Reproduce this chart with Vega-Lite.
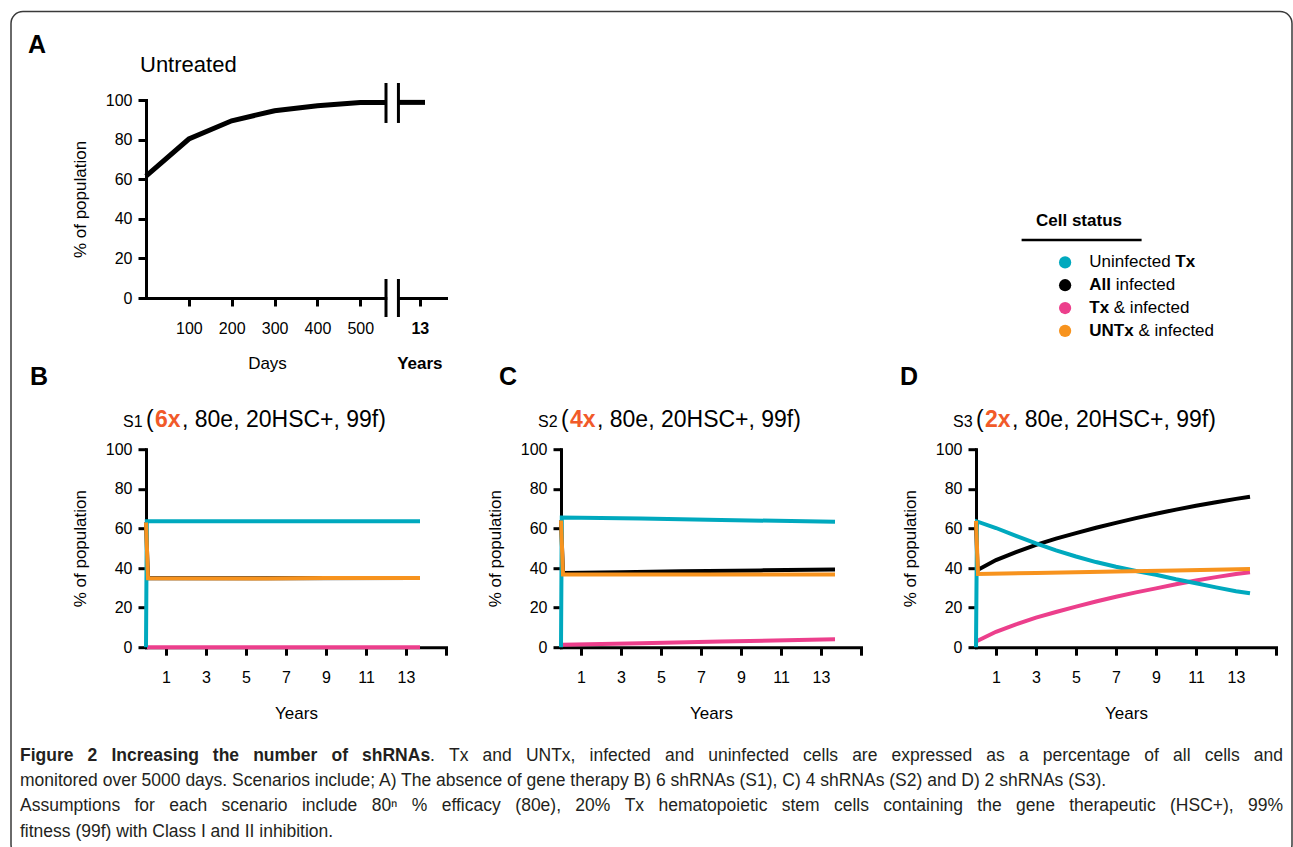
{
  "$schema": "https://vega.github.io/schema/vega-lite/v6.json",
  "background": "white",
  "padding": {"left": 10, "top": 10, "right": 0, "bottom": 0},
  "columns": 3,
  "align": "each",
  "bounds": "flush",
  "spacing": {"row": 151.2, "column": 115},
  "config": {
    "view": {"stroke": null},
    "font": "Liberation Sans",
    "axis": {
      "domainColor": "#000", "domainWidth": 3, "domainCap": "square",
      "tickColor": "#000", "tickWidth": 3, "tickSize": 8,
      "labelColor": "#000", "labelFont": "Liberation Sans", "labelFontSize": 16,
      "titleColor": "#000", "titleFont": "Liberation Sans", "titleFontSize": 17, "titleFontWeight": "normal",
      "grid": false, "labelFlush": false, "labelOverlap": false
    },
    "text": {"font": "Liberation Sans", "color": "#000"},
    "style": {
      "cap": {"fontSize": 17.5, "color": "#231f20", "align": "left", "baseline": "middle"},
      "capb": {"fontSize": 17.5, "color": "#231f20", "align": "left", "baseline": "middle", "fontWeight": "bold"},
      "leg": {"fontSize": 17, "align": "left", "baseline": "middle"},
      "ttl": {"fontSize": 23, "align": "left", "baseline": "alphabetic", "dy": -22}
    }
  },
  "datasets": {
    "untreated": [
      {"day": 0, "pct": 61.6, "seg": 1},
      {"day": 100, "pct": 80.3, "seg": 1},
      {"day": 200, "pct": 89.5, "seg": 1},
      {"day": 300, "pct": 94.6, "seg": 1},
      {"day": 400, "pct": 97.1, "seg": 1},
      {"day": 500, "pct": 98.7, "seg": 1},
      {"day": 560, "pct": 98.8, "seg": 1},
      {"day": 589, "pct": 98.8, "seg": 2},
      {"day": 651, "pct": 98.8, "seg": 2}
    ],
    "breaks": [{"b": 560}, {"b": 589}],
    "legendItems": [
      {"s": "Uninfected Tx", "r": 1},
      {"s": "All infected", "r": 2},
      {"s": "Tx & infected", "r": 3},
      {"s": "UNTx & infected", "r": 4}
    ],
    "sim": [
      {"p": "B", "s": "All infected", "t": 0, "v": 63},
      {"p": "B", "s": "All infected", "t": 0.1, "v": 34.8},
      {"p": "B", "s": "All infected", "t": 13.7, "v": 34.9},
      {"p": "B", "s": "Tx & infected", "t": 0.05, "v": 0},
      {"p": "B", "s": "Tx & infected", "t": 13.7, "v": 0},
      {"p": "B", "s": "Uninfected Tx", "t": 0, "v": 0},
      {"p": "B", "s": "Uninfected Tx", "t": 0.04, "v": 63.6},
      {"p": "B", "s": "Uninfected Tx", "t": 13.7, "v": 63.6},
      {"p": "B", "s": "UNTx & infected", "t": 0, "v": 63},
      {"p": "B", "s": "UNTx & infected", "t": 0.1, "v": 34.8},
      {"p": "B", "s": "UNTx & infected", "t": 6, "v": 34.7},
      {"p": "B", "s": "UNTx & infected", "t": 9, "v": 34.9},
      {"p": "B", "s": "UNTx & infected", "t": 13.7, "v": 34.9},

      {"p": "C", "s": "All infected", "t": 0, "v": 64},
      {"p": "C", "s": "All infected", "t": 0.1, "v": 37.5},
      {"p": "C", "s": "All infected", "t": 3, "v": 37.9},
      {"p": "C", "s": "All infected", "t": 6, "v": 38.3},
      {"p": "C", "s": "All infected", "t": 10, "v": 38.8},
      {"p": "C", "s": "All infected", "t": 13.7, "v": 39.3},
      {"p": "C", "s": "Tx & infected", "t": 0.05, "v": 1.2},
      {"p": "C", "s": "Tx & infected", "t": 4, "v": 2},
      {"p": "C", "s": "Tx & infected", "t": 8, "v": 2.9},
      {"p": "C", "s": "Tx & infected", "t": 13.7, "v": 4},
      {"p": "C", "s": "Uninfected Tx", "t": 0, "v": 0},
      {"p": "C", "s": "Uninfected Tx", "t": 0.04, "v": 65.5},
      {"p": "C", "s": "Uninfected Tx", "t": 4, "v": 65},
      {"p": "C", "s": "Uninfected Tx", "t": 8, "v": 64.3},
      {"p": "C", "s": "Uninfected Tx", "t": 13.7, "v": 63.3},
      {"p": "C", "s": "UNTx & infected", "t": 0, "v": 64},
      {"p": "C", "s": "UNTx & infected", "t": 0.1, "v": 36.7},
      {"p": "C", "s": "UNTx & infected", "t": 13.7, "v": 36.7},

      {"p": "D", "s": "All infected", "t": 0, "v": 63},
      {"p": "D", "s": "All infected", "t": 0.08, "v": 39},
      {"p": "D", "s": "All infected", "t": 1, "v": 44},
      {"p": "D", "s": "All infected", "t": 2, "v": 48},
      {"p": "D", "s": "All infected", "t": 3, "v": 51.7},
      {"p": "D", "s": "All infected", "t": 4, "v": 54.8},
      {"p": "D", "s": "All infected", "t": 5, "v": 57.6},
      {"p": "D", "s": "All infected", "t": 6, "v": 60.3},
      {"p": "D", "s": "All infected", "t": 7, "v": 62.8},
      {"p": "D", "s": "All infected", "t": 8, "v": 65.2},
      {"p": "D", "s": "All infected", "t": 9, "v": 67.4},
      {"p": "D", "s": "All infected", "t": 10, "v": 69.5},
      {"p": "D", "s": "All infected", "t": 11, "v": 71.4},
      {"p": "D", "s": "All infected", "t": 12, "v": 73.2},
      {"p": "D", "s": "All infected", "t": 13, "v": 74.9},
      {"p": "D", "s": "All infected", "t": 13.7, "v": 76},
      {"p": "D", "s": "Tx & infected", "t": 0.03, "v": 3},
      {"p": "D", "s": "Tx & infected", "t": 1, "v": 7.8},
      {"p": "D", "s": "Tx & infected", "t": 2, "v": 11.5},
      {"p": "D", "s": "Tx & infected", "t": 3, "v": 14.9},
      {"p": "D", "s": "Tx & infected", "t": 4, "v": 17.8},
      {"p": "D", "s": "Tx & infected", "t": 5, "v": 20.5},
      {"p": "D", "s": "Tx & infected", "t": 6, "v": 23.1},
      {"p": "D", "s": "Tx & infected", "t": 7, "v": 25.5},
      {"p": "D", "s": "Tx & infected", "t": 8, "v": 27.7},
      {"p": "D", "s": "Tx & infected", "t": 9, "v": 29.7},
      {"p": "D", "s": "Tx & infected", "t": 10, "v": 31.8},
      {"p": "D", "s": "Tx & infected", "t": 11, "v": 33.7},
      {"p": "D", "s": "Tx & infected", "t": 12, "v": 35.4},
      {"p": "D", "s": "Tx & infected", "t": 13, "v": 37},
      {"p": "D", "s": "Tx & infected", "t": 13.7, "v": 37.8},
      {"p": "D", "s": "Uninfected Tx", "t": 0, "v": 0},
      {"p": "D", "s": "Uninfected Tx", "t": 0.05, "v": 63.5},
      {"p": "D", "s": "Uninfected Tx", "t": 1, "v": 60.2},
      {"p": "D", "s": "Uninfected Tx", "t": 2, "v": 56.2},
      {"p": "D", "s": "Uninfected Tx", "t": 3, "v": 52.4},
      {"p": "D", "s": "Uninfected Tx", "t": 4, "v": 48.9},
      {"p": "D", "s": "Uninfected Tx", "t": 5, "v": 45.8},
      {"p": "D", "s": "Uninfected Tx", "t": 6, "v": 43},
      {"p": "D", "s": "Uninfected Tx", "t": 7, "v": 40.6},
      {"p": "D", "s": "Uninfected Tx", "t": 8, "v": 38.5},
      {"p": "D", "s": "Uninfected Tx", "t": 9, "v": 36.6},
      {"p": "D", "s": "Uninfected Tx", "t": 10, "v": 34.3},
      {"p": "D", "s": "Uninfected Tx", "t": 11, "v": 32.3},
      {"p": "D", "s": "Uninfected Tx", "t": 12, "v": 30.2},
      {"p": "D", "s": "Uninfected Tx", "t": 13, "v": 28.3},
      {"p": "D", "s": "Uninfected Tx", "t": 13.7, "v": 27.2},
      {"p": "D", "s": "UNTx & infected", "t": 0, "v": 63.8},
      {"p": "D", "s": "UNTx & infected", "t": 0.1, "v": 37},
      {"p": "D", "s": "UNTx & infected", "t": 3, "v": 37.5},
      {"p": "D", "s": "UNTx & infected", "t": 7, "v": 38.2},
      {"p": "D", "s": "UNTx & infected", "t": 10, "v": 38.8},
      {"p": "D", "s": "UNTx & infected", "t": 13.7, "v": 39.5}
    ]
  },
  "concat": [
    {
      "width": 300,
      "height": 198,
      "layer": [
        {
          "data": {"name": "untreated"},
          "mark": {"type": "line", "strokeWidth": 5, "color": "#000"},
          "encoding": {
            "x": {"field": "day", "type": "quantitative", "scale": {"domain": [0, 700], "nice": false, "zero": false},
              "axis": {"values": [100, 200, 300, 400, 500, 639], "tickCount": 10, "title": null, "labelPadding": 14,
                "labelExpr": "datum.value == 639 ? '13' : datum.label",
                "labelFontWeight": {"condition": {"test": "datum.value == 639", "value": "bold"}, "value": "normal"}}},
            "y": {"field": "pct", "type": "quantitative", "scale": {"domain": [0, 100], "nice": false},
              "axis": {"values": [0, 20, 40, 60, 80, 100], "tickCount": 10, "title": "% of population", "titlePadding": 16, "labelPadding": 6}},
            "detail": {"field": "seg", "type": "nominal"}
          }
        },
        {
          "data": {"values": [{}]},
          "mark": {"type": "rect", "color": "white"},
          "encoding": {"x": {"datum": 563, "type": "quantitative"}, "x2": {"datum": 586}, "y": {"datum": -2.5, "type": "quantitative"}, "y2": {"datum": 2.5}}
        },
        {
          "data": {"name": "breaks"},
          "mark": {"type": "rule", "strokeWidth": 3, "color": "#000"},
          "encoding": {"x": {"field": "b", "type": "quantitative"}, "y": {"datum": 108.6, "type": "quantitative"}, "y2": {"datum": 88.4}}
        },
        {
          "data": {"name": "breaks"},
          "mark": {"type": "rule", "strokeWidth": 3, "color": "#000"},
          "encoding": {"x": {"field": "b", "type": "quantitative"}, "y": {"datum": 9.6, "type": "quantitative"}, "y2": {"datum": -9.6}}
        },
        {
          "data": {"values": [{}]},
          "mark": {"type": "text", "text": "A", "fontSize": 25, "fontWeight": "bold", "align": "left", "baseline": "alphabetic", "dx": -118, "dy": -47},
          "encoding": {"x": {"datum": 0, "type": "quantitative"}, "y": {"datum": 100, "type": "quantitative"}}
        },
        {
          "data": {"values": [{}]},
          "mark": {"type": "text", "text": "Untreated", "fontSize": 22, "align": "left", "baseline": "alphabetic", "dx": -6, "dy": -27.6},
          "encoding": {"x": {"datum": 0, "type": "quantitative"}, "y": {"datum": 100, "type": "quantitative"}}
        },
        {
          "data": {"values": [{}]},
          "mark": {"type": "text", "text": "Days", "fontSize": 17, "align": "center", "baseline": "alphabetic", "dy": 70.7},
          "encoding": {"x": {"datum": 283.5, "type": "quantitative"}, "y": {"datum": 0, "type": "quantitative"}}
        },
        {
          "data": {"values": [{}]},
          "mark": {"type": "text", "text": "Years", "fontSize": 17, "fontWeight": "bold", "align": "center", "baseline": "alphabetic", "dy": 70.7},
          "encoding": {"x": {"datum": 639, "type": "quantitative"}, "y": {"datum": 0, "type": "quantitative"}}
        }
      ]
    },
    {
      "width": 300,
      "height": 198,
      "data": {"values": []},
      "mark": {"type": "point", "opacity": 0},
      "encoding": {}
    },
    {
      "width": 300,
      "height": 198,
      "encoding": {
        "x": {"datum": 0.3777, "type": "quantitative", "scale": {"domain": [0, 1], "nice": false, "zero": false}, "axis": null}
      },
      "layer": [
        {
          "data": {"name": "legendItems"},
          "mark": {"type": "point", "filled": true, "size": 150, "opacity": 1},
          "encoding": {
            "x": {"datum": 0.297, "type": "quantitative"},
            "y": {"field": "r", "type": "quantitative", "scale": {"domain": [-6.123, 2.561], "reverse": true, "nice": false, "zero": false}, "axis": null},
            "color": {"field": "s", "type": "nominal", "legend": null,
              "scale": {"domain": ["All infected", "Tx & infected", "Uninfected Tx", "UNTx & infected"], "range": ["#000000", "#EC3F8C", "#00A9BE", "#F7931E"]}}
          }
        },
        {
          "data": {"values": [{}]},
          "mark": {"type": "text", "text": "Cell status", "fontSize": 17, "fontWeight": "bold", "align": "center", "baseline": "alphabetic"},
          "encoding": {"x": {"datum": 0.3433, "type": "quantitative"}, "y": {"datum": -0.61, "type": "quantitative"}}
        },
        {
          "data": {"values": [{}]},
          "mark": {"type": "rule", "strokeWidth": 2.3, "color": "#000"},
          "encoding": {"x": {"datum": 0.152, "type": "quantitative"}, "x2": {"datum": 0.552}, "y": {"datum": 0.0175, "type": "quantitative"}}
        },
        {"data": {"values": [{}]}, "mark": {"type": "text", "style": "leg", "text": "Uninfected"}, "encoding": {"y": {"datum": 1, "type": "quantitative"}}},
        {"data": {"values": [{}]}, "mark": {"type": "text", "style": "leg", "text": "Tx", "fontWeight": "bold", "dx": 86}, "encoding": {"y": {"datum": 1, "type": "quantitative"}}},
        {"data": {"values": [{}]}, "mark": {"type": "text", "style": "leg", "text": "All", "fontWeight": "bold"}, "encoding": {"y": {"datum": 2, "type": "quantitative"}}},
        {"data": {"values": [{}]}, "mark": {"type": "text", "style": "leg", "text": "infected", "dx": 26.4}, "encoding": {"y": {"datum": 2, "type": "quantitative"}}},
        {"data": {"values": [{}]}, "mark": {"type": "text", "style": "leg", "text": "Tx", "fontWeight": "bold"}, "encoding": {"y": {"datum": 3, "type": "quantitative"}}},
        {"data": {"values": [{}]}, "mark": {"type": "text", "style": "leg", "text": "& infected", "dx": 24.5}, "encoding": {"y": {"datum": 3, "type": "quantitative"}}},
        {"data": {"values": [{}]}, "mark": {"type": "text", "style": "leg", "text": "UNTx", "fontWeight": "bold"}, "encoding": {"y": {"datum": 4, "type": "quantitative"}}},
        {"data": {"values": [{}]}, "mark": {"type": "text", "style": "leg", "text": "& infected", "dx": 49.1}, "encoding": {"y": {"datum": 4, "type": "quantitative"}}}
      ]
    },
    {
      "width": 300,
      "height": 198,
      "layer": [
        {
          "data": {"name": "sim"},
          "transform": [{"filter": "datum.p == 'B'"}],
          "mark": {"type": "line", "strokeWidth": 4},
          "encoding": {
            "x": {"field": "t", "type": "quantitative", "scale": {"domain": [0, 15], "nice": false, "zero": false},
              "axis": {"values": [1, 3, 5, 7, 9, 11, 13, 15], "tickCount": 10, "labelExpr": "datum.value == 15 ? '' : datum.label", "title": "Years", "titlePadding": 20, "labelPadding": 14}},
            "y": {"field": "v", "type": "quantitative", "scale": {"domain": [0, 100], "nice": false},
              "axis": {"values": [0, 20, 40, 60, 80, 100], "tickCount": 10, "title": "% of population", "titlePadding": 16, "labelPadding": 6}},
            "color": {"field": "s", "type": "nominal", "legend": null,
              "scale": {"domain": ["All infected", "Tx & infected", "Uninfected Tx", "UNTx & infected"], "range": ["#000000", "#EC3F8C", "#00A9BE", "#F7931E"]}}
          }
        },
        {
          "data": {"values": [{}]},
          "mark": {"type": "text", "text": "B", "fontSize": 25, "fontWeight": "bold", "align": "left", "baseline": "alphabetic", "dx": -116, "dy": -64},
          "encoding": {"x": {"datum": 0, "type": "quantitative"}, "y": {"datum": 100, "type": "quantitative"}}
        },
        {"data": {"values": [{}]}, "mark": {"type": "text", "style": "ttl", "text": "S1", "fontSize": 16, "dx": -23}, "encoding": {"x": {"datum": 0, "type": "quantitative"}, "y": {"datum": 100, "type": "quantitative"}}},
        {"data": {"values": [{}]}, "mark": {"type": "text", "style": "ttl", "text": "(", "dx": 0}, "encoding": {"x": {"datum": 0, "type": "quantitative"}, "y": {"datum": 100, "type": "quantitative"}}},
        {"data": {"values": [{}]}, "mark": {"type": "text", "style": "ttl", "text": "6x", "fontWeight": "bold", "color": "#F15A29", "dx": 9}, "encoding": {"x": {"datum": 0, "type": "quantitative"}, "y": {"datum": 100, "type": "quantitative"}}},
        {"data": {"values": [{}]}, "mark": {"type": "text", "style": "ttl", "text": ", 80e, 20HSC+, 99f)", "dx": 36}, "encoding": {"x": {"datum": 0, "type": "quantitative"}, "y": {"datum": 100, "type": "quantitative"}}}
      ]
    },
    {
      "width": 300,
      "height": 198,
      "layer": [
        {
          "data": {"name": "sim"},
          "transform": [{"filter": "datum.p == 'C'"}],
          "mark": {"type": "line", "strokeWidth": 4},
          "encoding": {
            "x": {"field": "t", "type": "quantitative", "scale": {"domain": [0, 15], "nice": false, "zero": false},
              "axis": {"values": [1, 3, 5, 7, 9, 11, 13, 15], "tickCount": 10, "labelExpr": "datum.value == 15 ? '' : datum.label", "title": "Years", "titlePadding": 20, "labelPadding": 14}},
            "y": {"field": "v", "type": "quantitative", "scale": {"domain": [0, 100], "nice": false},
              "axis": {"values": [0, 20, 40, 60, 80, 100], "tickCount": 10, "title": "% of population", "titlePadding": 16, "labelPadding": 6}},
            "color": {"field": "s", "type": "nominal", "legend": null,
              "scale": {"domain": ["All infected", "Tx & infected", "Uninfected Tx", "UNTx & infected"], "range": ["#000000", "#EC3F8C", "#00A9BE", "#F7931E"]}}
          }
        },
        {
          "data": {"values": [{}]},
          "mark": {"type": "text", "text": "C", "fontSize": 25, "fontWeight": "bold", "align": "left", "baseline": "alphabetic", "dx": -62, "dy": -64},
          "encoding": {"x": {"datum": 0, "type": "quantitative"}, "y": {"datum": 100, "type": "quantitative"}}
        },
        {"data": {"values": [{}]}, "mark": {"type": "text", "style": "ttl", "text": "S2", "fontSize": 16, "dx": -23}, "encoding": {"x": {"datum": 0, "type": "quantitative"}, "y": {"datum": 100, "type": "quantitative"}}},
        {"data": {"values": [{}]}, "mark": {"type": "text", "style": "ttl", "text": "(", "dx": 0}, "encoding": {"x": {"datum": 0, "type": "quantitative"}, "y": {"datum": 100, "type": "quantitative"}}},
        {"data": {"values": [{}]}, "mark": {"type": "text", "style": "ttl", "text": "4x", "fontWeight": "bold", "color": "#F15A29", "dx": 9}, "encoding": {"x": {"datum": 0, "type": "quantitative"}, "y": {"datum": 100, "type": "quantitative"}}},
        {"data": {"values": [{}]}, "mark": {"type": "text", "style": "ttl", "text": ", 80e, 20HSC+, 99f)", "dx": 36}, "encoding": {"x": {"datum": 0, "type": "quantitative"}, "y": {"datum": 100, "type": "quantitative"}}}
      ]
    },
    {
      "width": 300,
      "height": 198,
      "layer": [
        {
          "data": {"name": "sim"},
          "transform": [{"filter": "datum.p == 'D'"}],
          "mark": {"type": "line", "strokeWidth": 4},
          "encoding": {
            "x": {"field": "t", "type": "quantitative", "scale": {"domain": [0, 15], "nice": false, "zero": false},
              "axis": {"values": [1, 3, 5, 7, 9, 11, 13, 15], "tickCount": 10, "labelExpr": "datum.value == 15 ? '' : datum.label", "title": "Years", "titlePadding": 20, "labelPadding": 14}},
            "y": {"field": "v", "type": "quantitative", "scale": {"domain": [0, 100], "nice": false},
              "axis": {"values": [0, 20, 40, 60, 80, 100], "tickCount": 10, "title": "% of population", "titlePadding": 16, "labelPadding": 6}},
            "color": {"field": "s", "type": "nominal", "legend": null,
              "scale": {"domain": ["All infected", "Tx & infected", "Uninfected Tx", "UNTx & infected"], "range": ["#000000", "#EC3F8C", "#00A9BE", "#F7931E"]}}
          }
        },
        {
          "data": {"values": [{}]},
          "mark": {"type": "text", "text": "D", "fontSize": 25, "fontWeight": "bold", "align": "left", "baseline": "alphabetic", "dx": -76, "dy": -64},
          "encoding": {"x": {"datum": 0, "type": "quantitative"}, "y": {"datum": 100, "type": "quantitative"}}
        },
        {"data": {"values": [{}]}, "mark": {"type": "text", "style": "ttl", "text": "S3", "fontSize": 16, "dx": -23}, "encoding": {"x": {"datum": 0, "type": "quantitative"}, "y": {"datum": 100, "type": "quantitative"}}},
        {"data": {"values": [{}]}, "mark": {"type": "text", "style": "ttl", "text": "(", "dx": 0}, "encoding": {"x": {"datum": 0, "type": "quantitative"}, "y": {"datum": 100, "type": "quantitative"}}},
        {"data": {"values": [{}]}, "mark": {"type": "text", "style": "ttl", "text": "2x", "fontWeight": "bold", "color": "#F15A29", "dx": 9}, "encoding": {"x": {"datum": 0, "type": "quantitative"}, "y": {"datum": 100, "type": "quantitative"}}},
        {"data": {"values": [{}]}, "mark": {"type": "text", "style": "ttl", "text": ", 80e, 20HSC+, 99f)", "dx": 36}, "encoding": {"x": {"datum": 0, "type": "quantitative"}, "y": {"datum": 100, "type": "quantitative"}}}
      ]
    },
    {
      "width": 300,
      "height": 50,
      "data": {"values": [{}]},
      "encoding": {
        "x": {"datum": -0.42, "type": "quantitative", "scale": {"domain": [0, 1], "nice": false, "zero": false}, "axis": null}
      },
      "layer": [
        {
          "mark": {"type": "rect", "filled": false, "stroke": "#3a3a3a", "strokeWidth": 1.5, "cornerRadius": 12},
          "encoding": {
            "x": {"datum": -0.45, "type": "quantitative"},
            "x2": {"datum": 3.82},
            "y": {"datum": -28.41, "type": "quantitative", "scale": {"domain": [2.688, 4.664], "reverse": true, "nice": false, "zero": false}, "axis": null},
            "y2": {"datum": 4.99}
          }
        },
        {"mark": {"type": "text", "style": "capb", "text": "Figure", "dx": 0}, "encoding": {"y": {"datum": 1, "type": "quantitative"}}},
        {"mark": {"type": "text", "style": "capb", "text": "2", "dx": 67.57}, "encoding": {"y": {"datum": 1, "type": "quantitative"}}},
        {"mark": {"type": "text", "style": "capb", "text": "Increasing", "dx": 91.39}, "encoding": {"y": {"datum": 1, "type": "quantitative"}}},
        {"mark": {"type": "text", "style": "capb", "text": "the", "dx": 192.84}, "encoding": {"y": {"datum": 1, "type": "quantitative"}}},
        {"mark": {"type": "text", "style": "capb", "text": "number", "dx": 233.18}, "encoding": {"y": {"datum": 1, "type": "quantitative"}}},
        {"mark": {"type": "text", "style": "capb", "text": "of", "dx": 311.44}, "encoding": {"y": {"datum": 1, "type": "quantitative"}}},
        {"mark": {"type": "text", "style": "capb", "text": "shRNAs", "dx": 342.05}, "encoding": {"y": {"datum": 1, "type": "quantitative"}}},
        {"mark": {"type": "text", "style": "cap", "text": ".", "dx": 410.11}, "encoding": {"y": {"datum": 1, "type": "quantitative"}}},
        {"mark": {"type": "text", "style": "cap", "text": "Tx", "dx": 429.07}, "encoding": {"y": {"datum": 1, "type": "quantitative"}}},
        {"mark": {"type": "text", "style": "cap", "text": "and", "dx": 462.6}, "encoding": {"y": {"datum": 1, "type": "quantitative"}}},
        {"mark": {"type": "text", "style": "cap", "text": "UNTx,", "dx": 505.88}, "encoding": {"y": {"datum": 1, "type": "quantitative"}}},
        {"mark": {"type": "text", "style": "cap", "text": "infected", "dx": 569.55}, "encoding": {"y": {"datum": 1, "type": "quantitative"}}},
        {"mark": {"type": "text", "style": "cap", "text": "and", "dx": 644.93}, "encoding": {"y": {"datum": 1, "type": "quantitative"}}},
        {"mark": {"type": "text", "style": "cap", "text": "uninfected", "dx": 688.21}, "encoding": {"y": {"datum": 1, "type": "quantitative"}}},
        {"mark": {"type": "text", "style": "cap", "text": "cells", "dx": 783.05}, "encoding": {"y": {"datum": 1, "type": "quantitative"}}},
        {"mark": {"type": "text", "style": "cap", "text": "are", "dx": 832.14}, "encoding": {"y": {"datum": 1, "type": "quantitative"}}},
        {"mark": {"type": "text", "style": "cap", "text": "expressed", "dx": 871.52}, "encoding": {"y": {"datum": 1, "type": "quantitative"}}},
        {"mark": {"type": "text", "style": "cap", "text": "as", "dx": 966.34}, "encoding": {"y": {"datum": 1, "type": "quantitative"}}},
        {"mark": {"type": "text", "style": "cap", "text": "a", "dx": 998.91}, "encoding": {"y": {"datum": 1, "type": "quantitative"}}},
        {"mark": {"type": "text", "style": "cap", "text": "percentage", "dx": 1022.73}, "encoding": {"y": {"datum": 1, "type": "quantitative"}}},
        {"mark": {"type": "text", "style": "cap", "text": "of", "dx": 1124.37}, "encoding": {"y": {"datum": 1, "type": "quantitative"}}},
        {"mark": {"type": "text", "style": "cap", "text": "all", "dx": 1153.06}, "encoding": {"y": {"datum": 1, "type": "quantitative"}}},
        {"mark": {"type": "text", "style": "cap", "text": "cells", "dx": 1184.65}, "encoding": {"y": {"datum": 1, "type": "quantitative"}}},
        {"mark": {"type": "text", "style": "cap", "text": "and", "dx": 1233.74}, "encoding": {"y": {"datum": 1, "type": "quantitative"}}},
        {"mark": {"type": "text", "style": "cap", "text": "monitored over 5000 days. Scenarios include; A) The absence of gene therapy B) 6 shRNAs (S1), C) 4 shRNAs (S2) and D) 2 shRNAs (S3)."}, "encoding": {"y": {"datum": 2, "type": "quantitative"}}},
        {"mark": {"type": "text", "style": "cap", "text": "Assumptions", "dx": 0}, "encoding": {"y": {"datum": 3, "type": "quantitative"}}},
        {"mark": {"type": "text", "style": "cap", "text": "for", "dx": 114.48}, "encoding": {"y": {"datum": 3, "type": "quantitative"}}},
        {"mark": {"type": "text", "style": "cap", "text": "each", "dx": 149.21}, "encoding": {"y": {"datum": 3, "type": "quantitative"}}},
        {"mark": {"type": "text", "style": "cap", "text": "scenario", "dx": 201.46}, "encoding": {"y": {"datum": 3, "type": "quantitative"}}},
        {"mark": {"type": "text", "style": "cap", "text": "include", "dx": 281.9}, "encoding": {"y": {"datum": 3, "type": "quantitative"}}},
        {"mark": {"type": "text", "style": "cap", "text": "80ⁿ", "dx": 351.65}, "encoding": {"y": {"datum": 3, "type": "quantitative"}}},
        {"mark": {"type": "text", "style": "cap", "text": "%", "dx": 391.81}, "encoding": {"y": {"datum": 3, "type": "quantitative"}}},
        {"mark": {"type": "text", "style": "cap", "text": "efficacy", "dx": 421.68}, "encoding": {"y": {"datum": 3, "type": "quantitative"}}},
        {"mark": {"type": "text", "style": "cap", "text": "(80e),", "dx": 495.32}, "encoding": {"y": {"datum": 3, "type": "quantitative"}}},
        {"mark": {"type": "text", "style": "cap", "text": "20%", "dx": 555.34}, "encoding": {"y": {"datum": 3, "type": "quantitative"}}},
        {"mark": {"type": "text", "style": "cap", "text": "Tx", "dx": 604.67}, "encoding": {"y": {"datum": 3, "type": "quantitative"}}},
        {"mark": {"type": "text", "style": "cap", "text": "hematopoietic", "dx": 638.42}, "encoding": {"y": {"datum": 3, "type": "quantitative"}}},
        {"mark": {"type": "text", "style": "cap", "text": "stem", "dx": 761.67}, "encoding": {"y": {"datum": 3, "type": "quantitative"}}},
        {"mark": {"type": "text", "style": "cap", "text": "cells", "dx": 813.9}, "encoding": {"y": {"datum": 3, "type": "quantitative"}}},
        {"mark": {"type": "text", "style": "cap", "text": "containing", "dx": 863.21}, "encoding": {"y": {"datum": 3, "type": "quantitative"}}},
        {"mark": {"type": "text", "style": "cap", "text": "the", "dx": 957.29}, "encoding": {"y": {"datum": 3, "type": "quantitative"}}},
        {"mark": {"type": "text", "style": "cap", "text": "gene", "dx": 995.93}, "encoding": {"y": {"datum": 3, "type": "quantitative"}}},
        {"mark": {"type": "text", "style": "cap", "text": "therapeutic", "dx": 1049.16}, "encoding": {"y": {"datum": 3, "type": "quantitative"}}},
        {"mark": {"type": "text", "style": "cap", "text": "(HSC+),", "dx": 1150.04}, "encoding": {"y": {"datum": 3, "type": "quantitative"}}},
        {"mark": {"type": "text", "style": "cap", "text": "99%", "dx": 1228.03}, "encoding": {"y": {"datum": 3, "type": "quantitative"}}},
        {"mark": {"type": "text", "style": "cap", "text": "fitness (99f) with Class I and II inhibition."}, "encoding": {"y": {"datum": 4, "type": "quantitative"}}}
      ]
    }
  ]
}
